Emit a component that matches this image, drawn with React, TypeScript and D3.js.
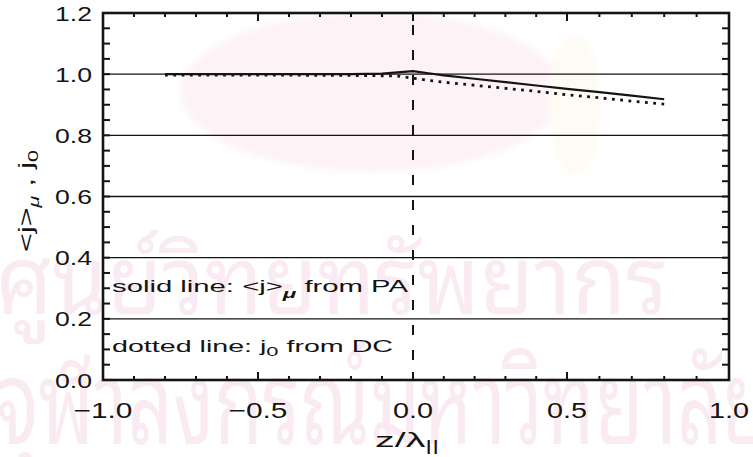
import React from "react";
import * as d3 from "d3";

// Positions along the field line, z / lambda_parallel
const Z = [-0.8, -0.6, -0.4, -0.2, -0.1, -0.05, 0.0, 0.05, 0.1, 0.2, 0.3, 0.4, 0.5, 0.6, 0.7, 0.8];
// <j>_mu from the pitch-angle (PA) calculation
const J_PA = [1.0, 1.0, 1.0, 1.0, 1.002, 1.006, 1.01, 1.003, 0.996, 0.985, 0.974, 0.963, 0.952, 0.941, 0.93, 0.918];
// j_0 from the diffusion-convection (DC) calculation
const J_DC = [1.0, 1.0, 1.0, 0.999, 0.998, 0.997, 0.99, 0.983, 0.977, 0.967, 0.957, 0.947, 0.936, 0.926, 0.915, 0.905];

const X_TICKS = [-1.0, -0.5, 0.0, 0.5, 1.0];
const X_TICK_LABELS = ["\u22121.0", "\u22120.5", "0.0", "0.5", "1.0"];
const Y_TICKS = [0.0, 0.2, 0.4, 0.6, 0.8, 1.0, 1.2];
const Y_TICK_LABELS = ["0.0", "0.2", "0.4", "0.6", "0.8", "1.0", "1.2"];
const GRID_Y = [0.2, 0.4, 0.6, 0.8, 1.0];

const W = 753;
const H = 457;
const FONT = "'Liberation Sans', Arial, Helvetica, sans-serif";
const INK = "#141414";

export default function App() {
  const x = d3.scaleLinear().domain([-1, -0.5, 0, 0.5, 1]).range([103, 258, 413, 567, 729]);
  const y = d3.scaleLinear().domain([0, 1.2]).range([380, 13]);

  const line = d3
    .line<number>()
    .x((_, i) => x(Z[i]))
    .y((d) => y(d));

  const xMinor = d3.range(-10, 11).map((k) => k / 10);
  const yMinor = d3.range(0, 25).map((k) => k * 0.05);
  const isMajorX = (v: number) => Math.abs(v * 2 - Math.round(v * 2)) < 1e-6;

  const [x0, x1] = [x(-1), x(1)];
  const [yb, yt] = [y(0), y(1.2)];

  return (
    <svg
      width={W}
      height={H}
      viewBox={`0 0 ${W} ${H}`}
      style={{ position: "absolute", left: 0, top: 0, background: "#fff" }}
    >
      <rect x={0} y={0} width={W} height={H} fill="#fff" />

      {/* faint library watermark */}
      <g style={{ filter: "blur(3px)" }}>
        <ellipse cx={372} cy={92} rx={192} ry={80} fill="#fdf3f7" />
        <ellipse cx={575} cy={105} rx={26} ry={70} fill="#fdfbf3" />
      </g>
      <g fill="#f9ebf1" fontFamily="'Noto Sans Thai Looped', 'Noto Serif Thai', 'Noto Sans Thai', 'Noto Sans', sans-serif">
        <text x={-4} y={314} fontSize={96} textLength={672} lengthAdjust="spacingAndGlyphs">
          ศูนย์วิทยทรัพยากร
        </text>
        <text x={-4} y={444} fontSize={116} textLength={775} lengthAdjust="spacingAndGlyphs">
          จุฬาลงกรณ์มหาวิทยาลัย
        </text>
      </g>

      {/* horizontal grid */}
      {GRID_Y.map((v) => (
        <line key={v} x1={x0} x2={x1} y1={y(v)} y2={y(v)} stroke={INK} strokeWidth={1.4} />
      ))}

      {/* z = 0 marker */}
      <line
        x1={x(0)}
        x2={x(0)}
        y1={yt}
        y2={yb}
        stroke={INK}
        strokeWidth={2}
        strokeDasharray="10 15"
        strokeDashoffset={-12}
      />

      {/* minor ticks */}
      {xMinor.map((v) => {
        const len = isMajorX(v) ? 8 : 4;
        return (
          <g key={`xm${v}`} stroke={INK} strokeWidth={2}>
            <line x1={x(v)} x2={x(v)} y1={yb} y2={yb - len} />
            <line x1={x(v)} x2={x(v)} y1={yt} y2={yt + len} />
          </g>
        );
      })}
      {yMinor.map((v) => (
        <g key={`ym${v}`} stroke={INK} strokeWidth={2}>
          <line x1={x0} x2={x0 + 7} y1={y(v)} y2={y(v)} />
          <line x1={x1} x2={x1 - 7} y1={y(v)} y2={y(v)} />
        </g>
      ))}

      {/* data */}
      <path d={line(J_PA) ?? ""} fill="none" stroke={INK} strokeWidth={2.2} strokeLinejoin="round" />
      <path
        d={line(J_DC) ?? ""}
        fill="none"
        stroke={INK}
        strokeWidth={2.8}
        strokeDasharray="2.8 5.5"
        transform="translate(0,1)"
      />

      {/* frame */}
      <rect x={x0} y={yt} width={x1 - x0} height={yb - yt} fill="none" stroke={INK} strokeWidth={2.6} />

      {/* tick labels */}
      <g fontFamily={FONT} fontSize={21} fill={INK}>
        {Y_TICKS.map((v, i) => (
          <text
            key={`yl${v}`}
            x={92}
            y={y(v) + 7.5}
            textAnchor="end"
            textLength={37}
            lengthAdjust="spacingAndGlyphs"
          >
            {Y_TICK_LABELS[i]}
          </text>
        ))}
        {X_TICKS.map((v, i) => (
          <text
            key={`xl${v}`}
            x={x(v)}
            y={418}
            textAnchor="middle"
            fontSize={22}
            textLength={X_TICK_LABELS[i].length > 3 ? 59 : 40}
            lengthAdjust="spacingAndGlyphs"
          >
            {X_TICK_LABELS[i]}
          </text>
        ))}
      </g>

      {/* axis titles */}
      <g fontFamily={FONT} fill={INK}>
        <text x={375} y={447} fontSize={21} textLength={64} lengthAdjust="spacingAndGlyphs">
          z/λ
          <tspan fontSize={14} dy={4}>
            ||
          </tspan>
        </text>
        <text
          transform="translate(33,252) rotate(-90)"
          x={0}
          y={0}
          fontSize={21}
          textLength={102}
          lengthAdjust="spacingAndGlyphs"
        >
          {"<j>"}
          <tspan fontSize={14} dy={6} fontStyle="italic">
            μ
          </tspan>
          <tspan dy={-6}>{" , j"}</tspan>
          <tspan fontSize={14} dy={5}>
            0
          </tspan>
        </text>
      </g>

      {/* annotations */}
      <g fontFamily={FONT} fill={INK} fontSize={17}>
        <text x={112} y={292} textLength={296} lengthAdjust="spacingAndGlyphs">
          {"solid line: <j>"}
          <tspan fontSize={13} dy={6} fontStyle="italic" fontWeight="bold">
            μ
          </tspan>
          <tspan dy={-6}>{" from PA"}</tspan>
        </text>
        <text x={112} y={352} textLength={281} lengthAdjust="spacingAndGlyphs">
          {"dotted line: j"}
          <tspan fontSize={13} dy={4}>
            0
          </tspan>
          <tspan dy={-4}>{" from DC"}</tspan>
        </text>
      </g>
    </svg>
  );
}
